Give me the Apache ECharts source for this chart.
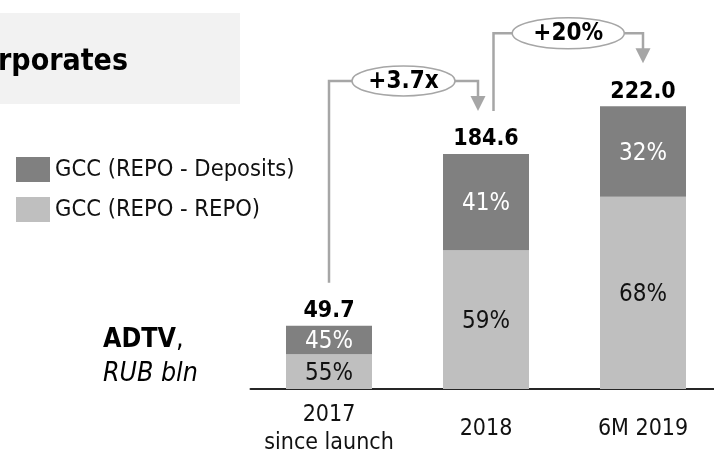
<!DOCTYPE html>
<html>
<head>
<meta charset="utf-8">
<script src="https://cdn.jsdelivr.net/npm/echarts@6/dist/echarts.min.js"></script>
<style>
  html, body { margin: 0; padding: 0; background: #ffffff; }
  #chart { width: 714px; height: 452px; }
</style>
</head>
<body>
<div id="chart"></div>
<script>
// ADTV of GCC trades, RUB bln, split by segment
const categories = ['2017\nsince launch', '2018', '6M 2019'];
const totals = [49.7, 184.6, 222.0];
const depositsShare = [45, 41, 32];   // GCC (REPO - Deposits), %
const repoShare = [55, 59, 68];       // GCC (REPO - REPO), %
const growthLabels = ['+3.7x', '+20%'];
const seriesNames = ['GCC (REPO - Deposits)', 'GCC (REPO - REPO)'];

const FONT = "'DejaVu Sans Condensed', 'DejaVu Sans', sans-serif";
const DARK = '#808080';
const LIGHT = '#bfbfbf';
const TEXT = '#111111';
const CONNECTOR = '#a6a6a6';

const repoValues = totals.map((t, i) => t * repoShare[i] / 100);
const depositsValues = totals.map((t, i) => t * depositsShare[i] / 100);

const chart = echarts.init(document.getElementById('chart'), null, { renderer: 'canvas' });

const option = {
  animation: false,
  backgroundColor: '#ffffff',
  textStyle: { fontFamily: FONT },
  legend: {
    orient: 'vertical',
    left: 11,
    top: 152,
    itemWidth: 34,
    itemHeight: 25,
    itemGap: 15,
    icon: 'rect',
    data: seriesNames,
    textStyle: { fontFamily: FONT, fontSize: 23.5, color: TEXT }
  },
  grid: {
    left: 250.5, right: -7.5, top: 70.6, bottom: 63,
    containLabel: false, outerBoundsMode: 'none'
  },
  xAxis: {
    type: 'category',
    data: categories,
    axisLine: { lineStyle: { color: '#262626', width: 2 } },
    axisTick: { show: false },
    axisLabel: {
      interval: 0,
      fontFamily: FONT, fontSize: 23, color: TEXT,
      lineHeight: 28, verticalAlign: 'middle', margin: 40
    }
  },
  yAxis: { type: 'value', min: 0, max: 250, show: false, splitLine: { show: false } },
  series: [
    {
      name: seriesNames[1],
      type: 'bar',
      stack: 'adtv',
      barWidth: 86,
      itemStyle: { color: LIGHT },
      data: repoValues,
      label: {
        show: true, position: 'inside', offset: [0, 2],
        fontFamily: FONT, fontSize: 24, color: TEXT,
        formatter: p => repoShare[p.dataIndex] + '%'
      }
    },
    {
      name: seriesNames[0],
      type: 'bar',
      stack: 'adtv',
      barWidth: 86,
      itemStyle: { color: DARK },
      data: depositsValues,
      label: {
        show: true, position: 'inside', offset: [0, 2],
        fontFamily: FONT, fontSize: 24, color: '#ffffff',
        formatter: p => depositsShare[p.dataIndex] + '%'
      }
    },
    {
      name: 'total',
      type: 'scatter',
      symbolSize: 0,
      silent: true,
      itemStyle: { opacity: 1 },
      data: totals,
      label: {
        show: true, position: 'top', distance: 3,
        fontFamily: FONT, fontSize: 23, fontWeight: 'bold', color: '#000000',
        formatter: p => totals[p.dataIndex].toFixed(1)
      }
    }
  ]
};

chart.setOption(option);

// Growth connectors between neighbouring bars, anchored to the bar tops
function topOf(i) { return chart.convertToPixel({ seriesIndex: 2 }, [i, totals[i]]); }

const connectorSpecs = [
  { from: 0, to: 1, fromDx: 0, toDx: -8, rx: 51.5, ry: 15 },
  { from: 1, to: 2, fromDx: 7.5, toDx: 0, rx: 56, ry: 15.5 }
];

const graphics = [
  // section header panel
  { type: 'rect', left: 0, top: 13, shape: { width: 240, height: 91 }, style: { fill: '#f2f2f2' }, z: 0 },
  {
    type: 'text', z: 1,
    x: 128, y: 62,
    style: {
      text: 'Corporates', align: 'right', verticalAlign: 'middle',
      font: "bold 30px " + FONT, fill: '#000000'
    }
  },
  // unit caption
  {
    type: 'text', z: 1, x: 103, y: 340,
    style: {
      text: '{b|ADTV},', verticalAlign: 'middle', align: 'left',
      font: "26.5px " + FONT, fill: '#000000',
      rich: { b: { fontFamily: FONT, fontSize: 26.5, fontWeight: 'bold', fill: '#000000' } }
    }
  },
  {
    type: 'text', z: 1, x: 103, y: 374,
    style: {
      text: 'RUB bln', verticalAlign: 'middle', align: 'left',
      font: "italic 26.5px " + FONT, fill: '#000000'
    }
  }
];

connectorSpecs.forEach((c, k) => {
  const a = topOf(c.from);
  const b = topOf(c.to);
  const x0 = a[0] + c.fromDx;
  const x1 = b[0] + c.toDx;
  const y0 = a[1] - 43;
  const tipY = b[1] - 43;
  const level = b[1] - 73;
  const cx = (x0 + x1) / 2;
  const head = 15;
  graphics.push(
    { type: 'polyline', z: 5, shape: { points: [[x0, y0], [x0, level], [cx - c.rx, level]] },
      style: { stroke: CONNECTOR, lineWidth: 2.5, fill: null } },
    { type: 'polyline', z: 5, shape: { points: [[cx + c.rx, level], [x1, level], [x1, tipY - head + 1]] },
      style: { stroke: CONNECTOR, lineWidth: 2.5, fill: null } },
    { type: 'polygon', z: 5, shape: { points: [[x1 - 7.5, tipY - head], [x1 + 7.5, tipY - head], [x1, tipY]] },
      style: { fill: CONNECTOR } },
    { type: 'ellipse', z: 6, shape: { cx: cx, cy: level, rx: c.rx, ry: c.ry },
      style: { fill: '#ffffff', stroke: CONNECTOR, lineWidth: 1.5 } },
    { type: 'text', z: 7, x: cx, y: level + 1,
      style: { text: growthLabels[k], align: 'center', verticalAlign: 'middle',
               font: "bold 24px " + FONT, fill: '#000000' } }
  );
});

chart.setOption({ graphic: graphics });
</script>
</body>
</html>
